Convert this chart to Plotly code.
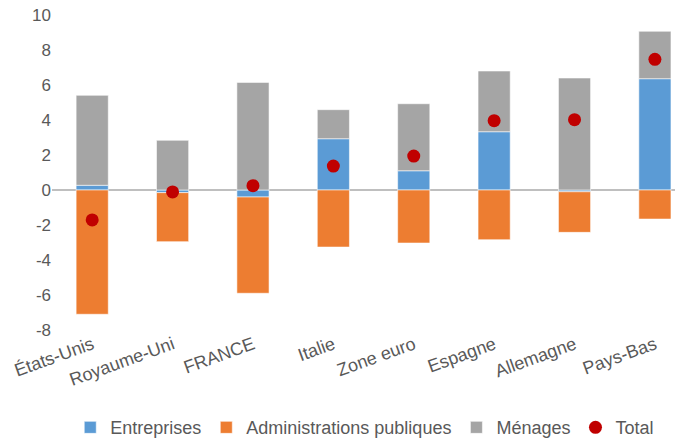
import plotly.graph_objects as go

categories = ["États-Unis", "Royaume-Uni", "FRANCE", "Italie", "Zone euro", "Espagne", "Allemagne", "Pays-Bas"]
entreprises = [0.27, -0.15, -0.40, 2.93, 1.10, 3.33, -0.10, 6.36]
administrations = [-7.10, -2.80, -5.50, -3.26, -3.03, -2.84, -2.32, -1.66]
menages = [5.14, 2.84, 6.15, 1.66, 3.83, 3.47, 6.40, 2.71]
total = [-1.71, -0.11, 0.25, 1.37, 1.94, 3.96, 4.02, 7.47]

y_ticks = [-8, -6, -4, -2, 0, 2, 4, 6, 8, 10]
y_tick_labels = ["-8", "-6", "-4", "-2", "0", "2", "4", "6", "8", "10"]

font_family = "Liberation Sans, Arial, sans-serif"
text_color = "#595959"
edge = dict(color="rgba(255,255,255,0.7)", width=0.8)

fig = go.Figure()
fig.add_trace(go.Bar(x=categories, y=entreprises, name="Entreprises",
                     marker=dict(color="#5B9BD5", line=edge)))
fig.add_trace(go.Bar(x=categories, y=administrations, name="Administrations publiques",
                     marker=dict(color="#ED7D31", line=edge)))
fig.add_trace(go.Bar(x=categories, y=menages, name="Ménages",
                     marker=dict(color="#A5A5A5", line=edge)))
fig.add_trace(go.Scatter(x=categories, y=total, name="Total", mode="markers",
                         marker=dict(color="#C00000", size=13, symbol="circle")))

fig.update_layout(
    width=675, height=440,
    barmode="relative", bargap=0.6,
    margin=dict(l=52, r=0, t=15, b=110, autoexpand=False),
    plot_bgcolor="white", paper_bgcolor="white",
    font=dict(family=font_family, color=text_color, size=17),
    showlegend=True,
    legend=dict(orientation="h", x=0.502, xanchor="center", y=-0.31, yanchor="middle",
                font=dict(size=18, color=text_color), itemwidth=30,
                traceorder="normal"),
    xaxis=dict(range=[-0.5, 7.25], tickangle=-20, showgrid=False, showline=False,
               ticks="", tickfont=dict(size=18, color=text_color)),
    yaxis=dict(range=[-8, 10], tickmode="array", tickvals=y_ticks, ticktext=y_tick_labels,
               showgrid=False, zeroline=True,
               zerolinecolor="#BFBFBF", zerolinewidth=1.5, showline=False,
               ticks="", tickfont=dict(size=17, color=text_color)),
)

fig.write_html("out.html",
               config={"displayModeBar": False},
               post_script="document.body.style.margin='0px';document.body.style.overflow='hidden';")
